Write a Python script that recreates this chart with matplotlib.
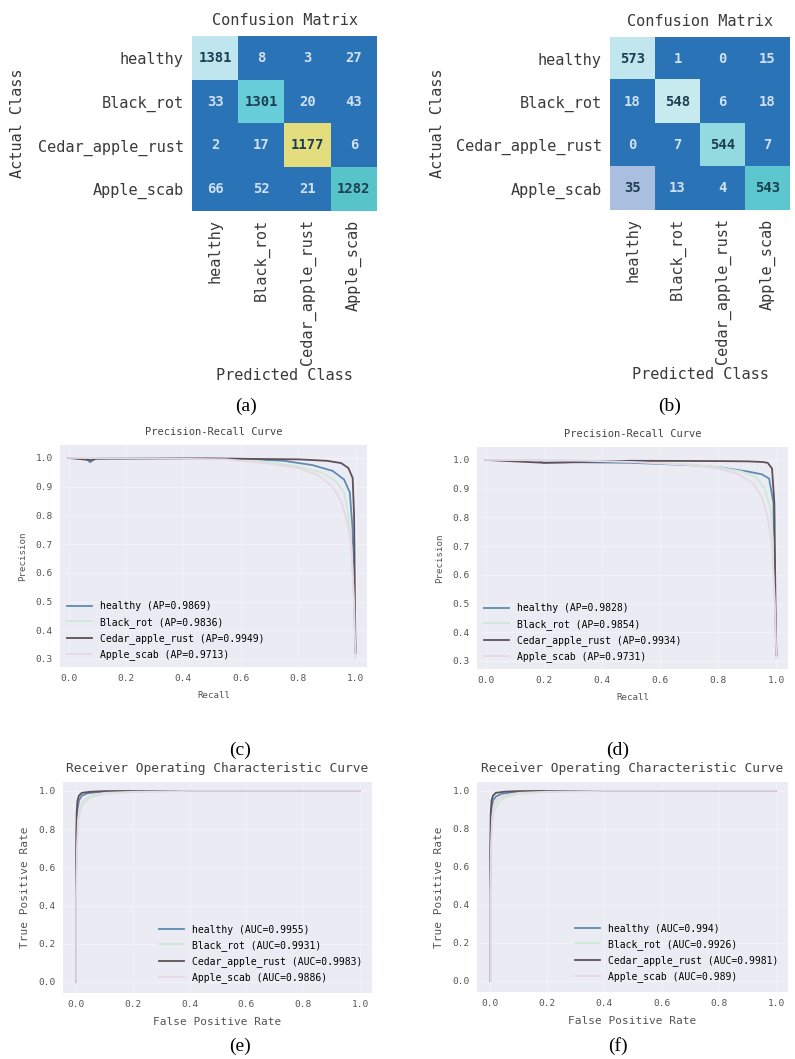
import numpy as np
import matplotlib
matplotlib.use("Agg")
import matplotlib.pyplot as plt
from matplotlib.colors import LinearSegmentedColormap

# class names and confusion matrices
classes = ["healthy", "Black_rot", "Cedar_apple_rust", "Apple_scab"]
cm_a = np.array([[1381, 8, 3, 27],
                 [33, 1301, 20, 43],
                 [2, 17, 1177, 6],
                 [66, 52, 21, 1282]])
cm_b = np.array([[573, 1, 0, 15],
                 [18, 548, 6, 18],
                 [0, 7, 544, 7],
                 [35, 13, 4, 543]])

# precision-recall curves, panel (c)
pr_c_healthy_r = [0.0, 0.06, 0.075, 0.09, 0.3, 0.6, 0.75, 0.85, 0.92, 0.96, 0.98, 0.99, 0.995, 1.0]
pr_c_healthy_p = [1.0, 0.998, 0.985, 0.997, 0.998, 0.997, 0.99, 0.975, 0.955, 0.925, 0.88, 0.75, 0.5, 0.33]
pr_c_black_r = [0.0, 0.3, 0.6, 0.7, 0.8, 0.88, 0.93, 0.96, 0.975, 0.985, 0.995, 1.0]
pr_c_black_p = [1.0, 0.999, 0.995, 0.985, 0.97, 0.95, 0.92, 0.88, 0.8, 0.7, 0.5, 0.33]
pr_c_cedar_r = [0.0, 0.08, 0.1, 0.5, 0.8, 0.9, 0.95, 0.975, 0.99, 0.995, 0.998, 1.0]
pr_c_cedar_p = [1.0, 0.992, 0.998, 0.998, 0.995, 0.99, 0.982, 0.965, 0.93, 0.8, 0.5, 0.32]
pr_c_scab_r = [0.0, 0.3, 0.55, 0.7, 0.8, 0.87, 0.92, 0.95, 0.97, 0.985, 0.995, 1.0]
pr_c_scab_p = [1.0, 0.998, 0.995, 0.98, 0.965, 0.94, 0.9, 0.85, 0.78, 0.7, 0.5, 0.3]
ap_c = [0.9869, 0.9836, 0.9949, 0.9713]

# precision-recall curves, panel (d)
pr_d_healthy_r = [0.0, 0.18, 0.2, 0.3, 0.5, 0.7, 0.8, 0.9, 0.95, 0.975, 0.99, 0.995, 1.0]
pr_d_healthy_p = [1.0, 0.998, 0.99, 0.992, 0.99, 0.982, 0.975, 0.96, 0.95, 0.935, 0.85, 0.5, 0.32]
pr_d_black_r = [0.0, 0.3, 0.5, 0.7, 0.8, 0.88, 0.93, 0.96, 0.98, 0.99, 0.995, 1.0]
pr_d_black_p = [1.0, 0.998, 0.995, 0.985, 0.975, 0.96, 0.94, 0.9, 0.83, 0.7, 0.5, 0.32]
pr_d_cedar_r = [0.0, 0.2, 0.3, 0.5, 0.8, 0.9, 0.95, 0.97, 0.985, 0.993, 0.997, 1.0]
pr_d_cedar_p = [1.0, 0.99, 0.992, 0.997, 0.996, 0.995, 0.993, 0.99, 0.97, 0.85, 0.5, 0.32]
pr_d_scab_r = [0.0, 0.3, 0.5, 0.7, 0.8, 0.87, 0.92, 0.95, 0.97, 0.985, 0.995, 1.0]
pr_d_scab_p = [1.0, 0.998, 0.993, 0.982, 0.97, 0.95, 0.92, 0.87, 0.8, 0.7, 0.5, 0.31]
ap_d = [0.9828, 0.9854, 0.9934, 0.9731]

# ROC curves, panel (e)
roc_e_healthy_f = [0.0, 0.0, 0.002, 0.005, 0.01, 0.02, 0.04, 0.08, 0.15, 0.3, 1.0]
roc_e_healthy_t = [0.0, 0.55, 0.8, 0.9, 0.95, 0.975, 0.988, 0.995, 0.998, 1.0, 1.0]
roc_e_black_f = [0.0, 0.0, 0.003, 0.008, 0.015, 0.03, 0.05, 0.1, 0.2, 0.35, 1.0]
roc_e_black_t = [0.0, 0.5, 0.75, 0.85, 0.9, 0.94, 0.965, 0.985, 0.995, 1.0, 1.0]
roc_e_cedar_f = [0.0, 0.0, 0.002, 0.005, 0.01, 0.02, 0.05, 0.1, 0.2, 1.0]
roc_e_cedar_t = [0.0, 0.6, 0.88, 0.95, 0.975, 0.99, 0.996, 0.999, 1.0, 1.0]
roc_e_scab_f = [0.0, 0.0, 0.003, 0.007, 0.012, 0.025, 0.05, 0.1, 0.2, 0.4, 1.0]
roc_e_scab_t = [0.0, 0.45, 0.7, 0.85, 0.91, 0.95, 0.975, 0.99, 0.996, 1.0, 1.0]
auc_e = ["0.9955", "0.9931", "0.9983", "0.9886"]

# ROC curves, panel (f)
roc_f_healthy_f = [0.0, 0.0, 0.002, 0.005, 0.01, 0.02, 0.04, 0.08, 0.15, 0.3, 1.0]
roc_f_healthy_t = [0.0, 0.5, 0.78, 0.9, 0.95, 0.97, 0.985, 0.993, 0.997, 1.0, 1.0]
roc_f_black_f = [0.0, 0.0, 0.003, 0.008, 0.015, 0.03, 0.05, 0.1, 0.2, 0.35, 1.0]
roc_f_black_t = [0.0, 0.45, 0.72, 0.84, 0.9, 0.94, 0.965, 0.985, 0.995, 1.0, 1.0]
roc_f_cedar_f = [0.0, 0.0, 0.002, 0.005, 0.01, 0.02, 0.05, 0.1, 0.2, 1.0]
roc_f_cedar_t = [0.0, 0.6, 0.88, 0.95, 0.975, 0.99, 0.996, 0.999, 1.0, 1.0]
roc_f_scab_f = [0.0, 0.0, 0.003, 0.007, 0.012, 0.025, 0.05, 0.1, 0.2, 0.4, 1.0]
roc_f_scab_t = [0.0, 0.45, 0.72, 0.86, 0.92, 0.955, 0.975, 0.99, 0.996, 1.0, 1.0]
auc_f = ["0.994", "0.9926", "0.9981", "0.989"]

line_colors = ["#5f8bb0", "#cfe9d6", "#5e5157", "#e6d9e6"]

W, H = 795, 1059
fig = plt.figure(figsize=(W / 100, H / 100), dpi=100)
fig.patch.set_facecolor("white")
mono = "DejaVu Sans Mono"
txt = "#3a3a3a"


def rect(l, t, r, b):
    return [l / W, 1 - b / H, (r - l) / W, (b - t) / H]


def heat(box, cm, nodes):
    ax = fig.add_axes(rect(*box))
    vmax = cm.max()
    cmap = LinearSegmentedColormap.from_list("c", [(v / vmax, c) for v, c in nodes])
    ax.imshow(cm, cmap=cmap, vmin=0, vmax=vmax, aspect="auto", interpolation="nearest")
    lo = nodes[1][0]
    for i in range(cm.shape[0]):
        for j in range(cm.shape[1]):
            v = cm[i, j]
            col = "#cfe0ee" if v <= lo else "#1d3f52"
            ax.text(j, i, str(v), ha="center", va="center", fontsize=10,
                    family=mono, fontweight="bold", color=col)
    ax.set_xticks(range(4))
    ax.set_yticks(range(4))
    ax.set_xticklabels(classes, rotation=90, family=mono, fontsize=11, color=txt)
    ax.set_yticklabels(classes, family=mono, fontsize=11, color=txt)
    ax.tick_params(length=0, pad=6)
    for s in ax.spines.values():
        s.set_visible(False)
    ax.set_title("Confusion Matrix", family=mono, fontsize=11, color=txt, pad=8)
    ax.set_xlabel("Predicted Class", family=mono, fontsize=11, color=txt, labelpad=2)
    return ax


dark = "#2a73b7"
heat((192, 36, 377, 211), cm_a,
     [(0, dark), (66, dark), (1177, "#e9de7c"), (1282, "#56c4c8"),
      (1301, "#62ccd8"), (1381, "#bfe5ee")])
fig.text(18 / W, 1 - 123 / H, "Actual Class", rotation=90, ha="center", va="center",
         family=mono, fontsize=11, color=txt)
heat((610, 37, 790, 210), cm_b,
     [(0, dark), (18, dark), (35, "#b5c5e3"), (543, "#56c3c8"),
      (544, "#5ec9d2"), (548, "#c7ebef"), (573, "#c2e6ee")])
fig.text(437 / W, 1 - 123 / H, "Actual Class", rotation=90, ha="center", va="center",
         family=mono, fontsize=11, color=txt)


def style(ax, title, tsize, xl, yl, lsize):
    ax.set_facecolor("#ebebf3")
    ax.grid(True, color="#f3f3f8", lw=0.6)
    ax.set_axisbelow(True)
    for s in ax.spines.values():
        s.set_visible(False)
    ax.tick_params(length=0, labelsize=6.8, labelcolor="#555555", pad=5)
    for lab in ax.get_xticklabels() + ax.get_yticklabels():
        lab.set_family(mono)
    ax.set_title(title, family=mono, fontsize=tsize, color="#444444", pad=7)
    ax.set_xlabel(xl, family=mono, fontsize=lsize, color="#555555", labelpad=6)
    ax.set_ylabel(yl, family=mono, fontsize=lsize, color="#555555", labelpad=6)


def pr_panel(box, curves, aps):
    ax = fig.add_axes(rect(*box))
    for (r, p), c, name, ap in zip(curves, line_colors, classes, aps):
        ax.plot(r, p, color=c, lw=1.3, label=f"{name} (AP={ap})")
    ax.set_xlim(-0.03, 1.04)
    ax.set_ylim(0.272, 1.045)
    ax.set_xticks(np.arange(0, 1.01, 0.2))
    ax.set_yticks(np.arange(0.3, 1.01, 0.1))
    ax.set_xticklabels([f"{v:.1f}" for v in np.arange(0, 1.01, 0.2)])
    ax.set_yticklabels([f"{v:.1f}" for v in np.arange(0.3, 1.01, 0.1)])
    style(ax, "Precision-Recall Curve", 7.5, "Recall", "Precision", 6.6)
    ax.legend(loc="lower left", frameon=False, prop={"family": mono, "size": 7},
              handlelength=2.6, labelspacing=0.55, borderaxespad=0.3)
    return ax


def roc_panel(box, curves, aucs):
    ax = fig.add_axes(rect(*box))
    for (f, t), c, name, a in zip(curves, line_colors, classes, aucs):
        ax.plot(f, t, color=c, lw=1.3, label=f"{name} (AUC={a})")
    ax.set_xlim(-0.046, 1.042)
    ax.set_ylim(-0.058, 1.047)
    ax.set_xticks(np.arange(0, 1.01, 0.2))
    ax.set_yticks(np.arange(0, 1.01, 0.2))
    ax.set_xticklabels([f"{v:.1f}" for v in np.arange(0, 1.01, 0.2)])
    ax.set_yticklabels([f"{v:.1f}" for v in np.arange(0, 1.01, 0.2)])
    style(ax, "Receiver Operating Characteristic Curve", 9.3,
          "False Positive Rate", "True Positive Rate", 8)
    ax.legend(loc="lower right", frameon=False, prop={"family": mono, "size": 7},
              handlelength=2.6, labelspacing=0.55, borderaxespad=0.6)
    return ax


pr_panel((60, 445, 367, 667),
         [(pr_c_healthy_r, pr_c_healthy_p), (pr_c_black_r, pr_c_black_p),
          (pr_c_cedar_r, pr_c_cedar_p), (pr_c_scab_r, pr_c_scab_p)], ap_c)
pr_panel((477, 447, 788, 669),
         [(pr_d_healthy_r, pr_d_healthy_p), (pr_d_black_r, pr_d_black_p),
          (pr_d_cedar_r, pr_d_cedar_p), (pr_d_scab_r, pr_d_scab_p)], ap_d)
roc_panel((63, 782, 372, 993),
          [(roc_e_healthy_f, roc_e_healthy_t), (roc_e_black_f, roc_e_black_t),
           (roc_e_cedar_f, roc_e_cedar_t), (roc_e_scab_f, roc_e_scab_t)], auc_e)
roc_panel((477, 782, 788, 992),
          [(roc_f_healthy_f, roc_f_healthy_t), (roc_f_black_f, roc_f_black_t),
           (roc_f_cedar_f, roc_f_cedar_t), (roc_f_scab_f, roc_f_scab_t)], auc_f)

# sub-figure captions
for lab, x, y in [("(a)", 246, 406), ("(b)", 670, 406), ("(c)", 240, 750),
                  ("(d)", 618, 750), ("(e)", 240, 1046), ("(f)", 618, 1046)]:
    fig.text(x / W, 1 - y / H, lab, ha="center", va="center",
             family="Liberation Serif", fontsize=14, color="black")

fig.savefig("out.png", dpi=100)
